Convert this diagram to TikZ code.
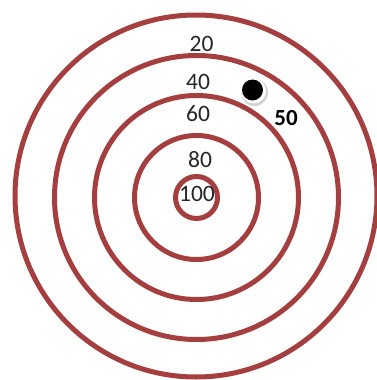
\documentclass[tikz,border=0pt]{standalone}
\usepackage{fontspec}
\setmainfont{Carlito}
\definecolor{ringred}{RGB}{165,62,62}
\begin{document}
\begin{tikzpicture}[x=1pt,y=-1pt,
  ring/.style={draw=ringred,line width=5pt},
  lbl/.style={font=\fontsize{23.5}{25}\selectfont,text=black!85,inner sep=0pt},
  hit/.style={font=\bfseries\fontsize{23}{25}\selectfont,text=black,inner sep=0pt}]
\useasboundingbox (0,0) rectangle (377,380);
\fill[white] (0,0) rectangle (377,380);
\coordinate (c) at (196.5,197.5);
\draw[ring] (196,196) circle[radius=181];
\foreach \r in {142,102,62,21}{
  \draw[ring] (c) circle[radius=\r];
}
\node[lbl] (t20) at (201.5,44) {20};
\node[lbl] (t40) at (198,82) {40};
\node[lbl] (t60) at (198,114) {60};
\node[lbl] (t80) at (200,160) {80};
\node[lbl] (t100) at (197,194) {100};
\node[hit] (t50) at (286,118) {50};
\fill[black!18] (254.5,92.5) circle[radius=13.5];
\fill[white] (253.5,91) circle[radius=12.5];
\fill[black] (252.5,90) circle[radius=10.5];
\end{tikzpicture}
\end{document}
